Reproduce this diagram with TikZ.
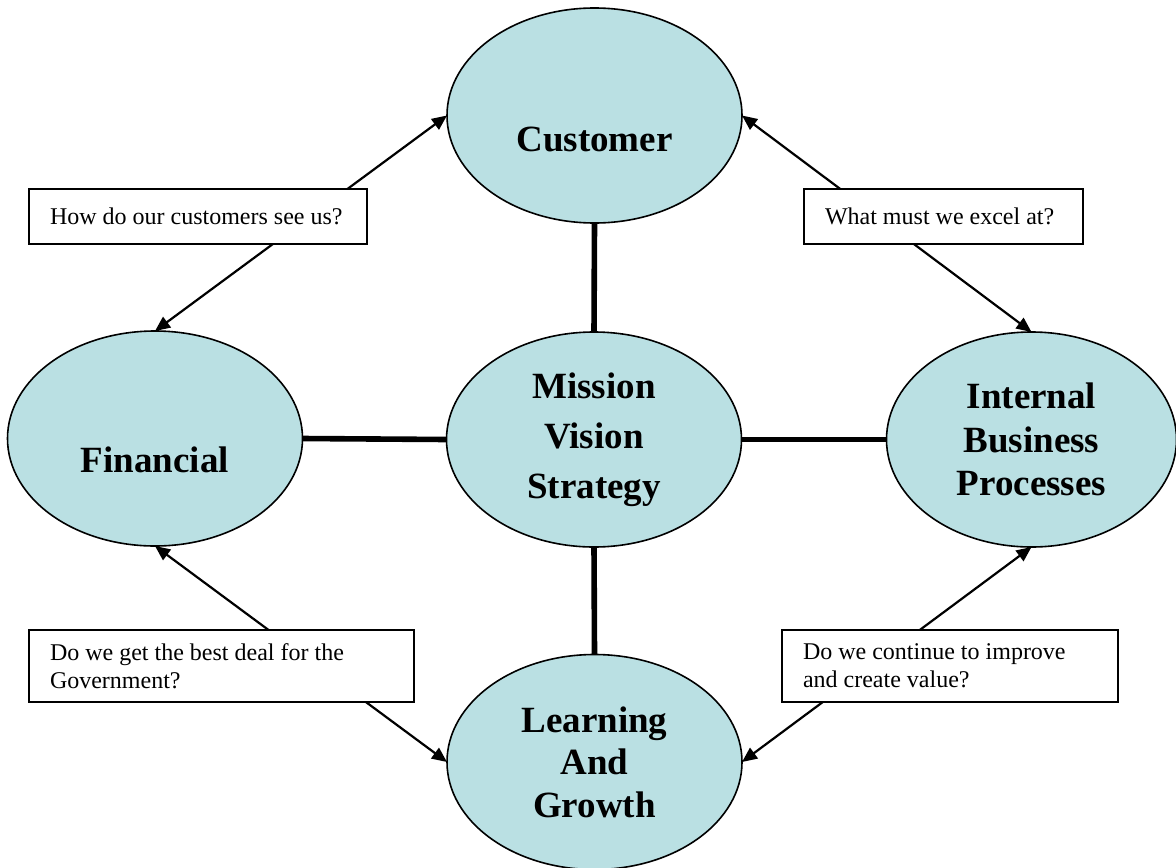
\documentclass[tikz,border=0pt]{standalone}
\usepackage{fontspec}
\setmainfont{Liberation Serif}
\usetikzlibrary{shapes.geometric,arrows.meta}
\definecolor{ovalfill}{RGB}{186,224,227}
\begin{document}
\begin{tikzpicture}[x=0.5pt,y=-0.5pt,
  oval/.style={ellipse,draw=black,line width=0.8pt,fill=ovalfill,inner sep=0pt,outer sep=0pt,
    minimum width=147.5pt,minimum height=107.5pt,align=center,
    font=\fontsize{18.5}{25}\bfseries\selectfont},
  bigtext/.style={font=\fontsize{18.5}{25}\bfseries\selectfont,inner sep=0pt},
  thickline/.style={line width=2.8pt},
  qarrow/.style={line width=1.1pt,{Triangle[length=7.5pt,width=6.5pt]}-{Triangle[length=7.5pt,width=6.5pt]}},
  qbox/.style={draw=black,fill=white,line width=1pt,inner xsep=10.5pt,inner ysep=0pt,outer sep=0pt,
    align=flush left,font=\fontsize{12}{14}\selectfont}
]
\useasboundingbox (0,0) rectangle (1176,867);

% ellipses
\node[oval,label={[bigtext,yshift=-12pt]center:Customer}] (cust) at (594.5,115.5) {};
\node[oval] (miss) at (594,439.5) {Mission\\Vision\\Strategy};
\node[oval,label={[bigtext,yshift=-10.5pt]center:Financial}] (fin) at (155,438.5) {};
\node[oval,minimum width=145pt,font=\fontsize{18.5}{21.75}\bfseries\selectfont] (int) at (1031.5,439.5) {Internal\\Business\\Processes};
\node[oval,font=\fontsize{18.5}{21.25}\bfseries\selectfont] (learn) at (594.5,762) {Learning\\And\\Growth};

% thick connectors
\draw[thickline] (cust.south) -- (miss.north);
\draw[thickline] (miss.south) -- (learn.north);
\draw[thickline] (fin.east) -- (miss.west);
\draw[thickline] (miss.east) -- (int.west);

% arrows
\draw[qarrow] (fin.north) -- (cust.west);
\draw[qarrow] (cust.east) -- (int.north);
\draw[qarrow] (fin.south) -- (learn.west);
\draw[qarrow] (int.south) -- (learn.east);

% question boxes
\node[qbox,text width=148pt,minimum height=27.5pt] (q1) at (198,216.5) {\mbox{How do our customers see us?}};
\node[qbox,text width=118.5pt,minimum height=27.5pt] (q2) at (943.5,216.5) {\mbox{What must we excel at?}};
\node[qbox,text width=171.5pt,minimum height=36pt] (q3) at (221.5,666) {Do we get the best deal for the\\Government?};
\node[qbox,text width=147pt,minimum height=36pt] (q4) at (950,666) {Do we continue to improve\\and create value?};
\end{tikzpicture}
\end{document}
